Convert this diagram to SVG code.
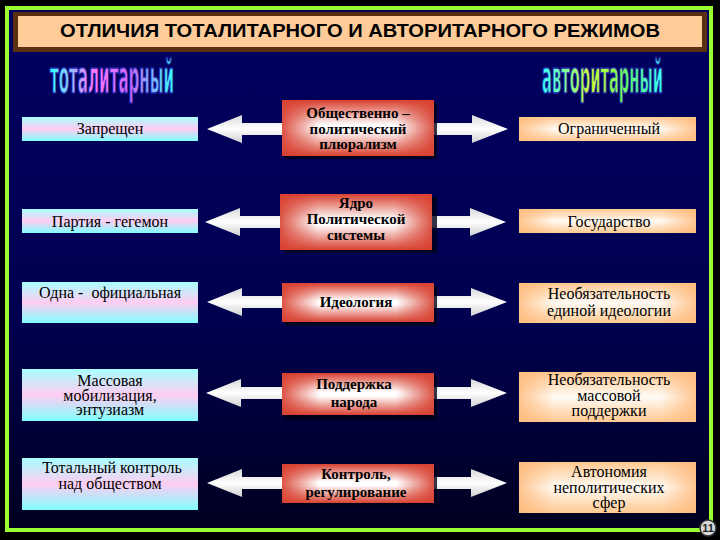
<svg xmlns="http://www.w3.org/2000/svg" width="720" height="540" viewBox="0 0 720 540">
<defs>
<linearGradient id="bg" x1="0" y1="0" x2="0" y2="1"><stop offset="0" stop-color="#000060"/><stop offset="0.6" stop-color="#000050"/><stop offset="1" stop-color="#000020"/></linearGradient>
<linearGradient id="lg" x1="0" y1="0" x2="0" y2="1"><stop offset="0" stop-color="#A8FFFF"/><stop offset="0.5" stop-color="#FFCCF2"/><stop offset="1" stop-color="#80FFFF"/></linearGradient>
<linearGradient id="cv" x1="0" y1="0" x2="0" y2="1"><stop offset="0" stop-color="#D84030"/><stop offset="0.45" stop-color="#FFFFFF"/><stop offset="0.55" stop-color="#FFFFFF"/><stop offset="1" stop-color="#D84030"/></linearGradient>
<linearGradient id="ch" x1="0" y1="0" x2="1" y2="0"><stop offset="0" stop-color="#D84030" stop-opacity="0.9"/><stop offset="0.25" stop-color="#D84030" stop-opacity="0"/><stop offset="0.75" stop-color="#D84030" stop-opacity="0"/><stop offset="1" stop-color="#D84030" stop-opacity="0.9"/></linearGradient>
<linearGradient id="rv" x1="0" y1="0" x2="0" y2="1"><stop offset="0" stop-color="#FFC890"/><stop offset="0.5" stop-color="#FFFBF5"/><stop offset="1" stop-color="#FFC890"/></linearGradient>
<linearGradient id="rh" x1="0" y1="0" x2="1" y2="0"><stop offset="0" stop-color="#FFB878" stop-opacity="0.8"/><stop offset="0.2" stop-color="#FFB878" stop-opacity="0"/><stop offset="0.8" stop-color="#FFB878" stop-opacity="0"/><stop offset="1" stop-color="#FFB878" stop-opacity="0.8"/></linearGradient>
<linearGradient id="ar" x1="0" y1="0" x2="0" y2="1"><stop offset="0" stop-color="#D8D8D8"/><stop offset="0.5" stop-color="#FFFFFF"/><stop offset="1" stop-color="#D0D0D0"/></linearGradient>
<linearGradient id="w1" x1="0" y1="0" x2="1" y2="0"><stop offset="0" stop-color="#33FFFF"/><stop offset="0.35" stop-color="#FF77FF"/><stop offset="0.65" stop-color="#CC66FF"/><stop offset="1" stop-color="#33FFFF"/></linearGradient>
<linearGradient id="w2" x1="0" y1="0" x2="1" y2="0"><stop offset="0" stop-color="#33FFFF"/><stop offset="0.4" stop-color="#CCFF33"/><stop offset="0.7" stop-color="#66FF66"/><stop offset="1" stop-color="#33FFFF"/></linearGradient>
</defs>
<style>
.l{font-family:"Liberation Serif","Times New Roman",serif;font-size:16px;fill:#000;text-anchor:middle}
.c{font-family:"Liberation Serif","Times New Roman",serif;font-size:15px;font-weight:bold;fill:#000;text-anchor:middle}
.arr{fill:url(#ar)}
.sh{fill:#000018;opacity:0.8}
.wa{font-family:"DejaVu Sans Condensed","DejaVu Sans",sans-serif;font-weight:bold;font-size:46px;stroke:#2222AA;stroke-width:1.5}
</style>
<rect width="720" height="540" fill="#000000"/>
<rect x="7" y="8" width="704" height="522" fill="url(#bg)" stroke="#99FF33" stroke-width="4"/>
<g id="title">
<rect x="13" y="12" width="694" height="40" fill="#5A2E10"/>
<rect x="18" y="16" width="684" height="31" fill="#FFCC99"/>
<text x="360" y="37" font-family="'Liberation Sans',Arial,sans-serif" font-size="18" font-weight="bold" text-anchor="middle" textLength="600" lengthAdjust="spacingAndGlyphs">ОТЛИЧИЯ ТОТАЛИТАРНОГО И АВТОРИТАРНОГО РЕЖИМОВ</text>
</g>
<g id="heading-left"><text class="wa" x="50" y="93" fill="url(#w1)" textLength="124" lengthAdjust="spacingAndGlyphs">тоталитарный</text></g>
<g id="heading-right"><text class="wa" x="542" y="93" fill="url(#w2)" textLength="121" lengthAdjust="spacingAndGlyphs">авторитарный</text></g>
<g id="connectors">
<polygon class="arr" points="207,129 242,115 242,123 290,123 290,135 242,135 242,143"/>
<polygon class="arr" points="508,129 472,115 472,123 426,123 426,135 472,135 472,143"/>
<polygon class="arr" points="205,222 240,208 240,216 290,216 290,228 240,228 240,236"/>
<polygon class="arr" points="506,222 470,208 470,216 426,216 426,228 470,228 470,236"/>
<polygon class="arr" points="207,302 242,288 242,296 290,296 290,308 242,308 242,316"/>
<polygon class="arr" points="507,302 471,288 471,296 426,296 426,308 471,308 471,316"/>
<polygon class="arr" points="206,393 241,379 241,387 290,387 290,399 241,399 241,407"/>
<polygon class="arr" points="507,393 471,379 471,387 426,387 426,399 471,399 471,407"/>
<polygon class="arr" points="207,483 242,469 242,477 290,477 290,489 242,489 242,497"/>
<polygon class="arr" points="507,483 471,469 471,477 426,477 426,489 471,489 471,497"/>
</g>
<g id="l1"><rect x="22" y="117" width="176" height="24" fill="url(#lg)"/><text class="l" x="110" y="134">Запрещен</text></g>
<g id="l2"><rect x="22" y="209" width="176" height="24" fill="url(#lg)"/><text class="l" x="110" y="227">Партия - гегемон</text></g>
<g id="l3"><rect x="22" y="282" width="176" height="41" fill="url(#lg)"/><text class="l" x="110" y="298" xml:space="preserve">Одна -  официальная</text></g>
<g id="l4"><rect x="22" y="369" width="176" height="52" fill="url(#lg)"/><text class="l" x="110" y="386">Массовая</text><text class="l" x="110" y="401">мобилизация,</text><text class="l" x="110" y="415">энтузиазм</text></g>
<g id="l5"><rect x="22" y="458" width="176" height="52" fill="url(#lg)"/><text class="l" x="112" y="473">Тотальный контроль</text><text class="l" x="110" y="489">над обществом</text></g>
<g id="c1"><rect class="sh" x="285" y="103" width="152" height="56"/><rect x="282" y="100" width="152" height="56" fill="url(#cv)"/><rect x="282" y="100" width="152" height="56" fill="url(#ch)"/><text class="c" x="358" y="118">Общественно –</text><text class="c" x="358" y="134">политический</text><text class="c" x="358" y="149">плюрализм</text></g>
<g id="c2"><rect class="sh" x="285" y="197" width="152" height="56"/><rect x="280" y="194" width="152" height="56" fill="url(#cv)"/><rect x="280" y="194" width="152" height="56" fill="url(#ch)"/><text class="c" x="356" y="208">Ядро</text><text class="c" x="356" y="224">Политической</text><text class="c" x="356" y="240">системы</text></g>
<g id="c3"><rect class="sh" x="285" y="286" width="152" height="40"/><rect x="282" y="283" width="152" height="39" fill="url(#cv)"/><rect x="282" y="283" width="152" height="39" fill="url(#ch)"/><text class="c" x="356" y="307">Идеология</text></g>
<g id="c4"><rect class="sh" x="285" y="376" width="152" height="44"/><rect x="282" y="373" width="152" height="42" fill="url(#cv)"/><rect x="282" y="373" width="152" height="42" fill="url(#ch)"/><text class="c" x="354" y="389">Поддержка</text><text class="c" x="354" y="407">народа</text></g>
<g id="c5"><rect class="sh" x="285" y="467" width="152" height="40"/><rect x="282" y="464" width="152" height="39" fill="url(#cv)"/><rect x="282" y="464" width="152" height="39" fill="url(#ch)"/><text class="c" x="356" y="479">Контроль,</text><text class="c" x="356" y="497">регулирование</text></g>
<g id="r1"><rect x="519" y="117" width="177" height="24" fill="url(#rv)"/><rect x="519" y="117" width="177" height="24" fill="url(#rh)"/><text class="l" x="609" y="134">Ограниченный</text></g>
<g id="r2"><rect x="519" y="209" width="177" height="24" fill="url(#rv)"/><rect x="519" y="209" width="177" height="24" fill="url(#rh)"/><text class="l" x="609" y="227">Государство</text></g>
<g id="r3"><rect x="519" y="283" width="177" height="40" fill="url(#rv)"/><rect x="519" y="283" width="177" height="40" fill="url(#rh)"/><text class="l" x="609" y="299">Необязательность</text><text class="l" x="609" y="316">единой идеологии</text></g>
<g id="r4"><rect x="519" y="372" width="177" height="50" fill="url(#rv)"/><rect x="519" y="372" width="177" height="50" fill="url(#rh)"/><text class="l" x="609" y="385">Необязательность</text><text class="l" x="609" y="401">массовой</text><text class="l" x="609" y="416">поддержки</text></g>
<g id="r5"><rect x="519" y="462" width="177" height="51" fill="url(#rv)"/><rect x="519" y="462" width="177" height="51" fill="url(#rh)"/><text class="l" x="609" y="477">Автономия</text><text class="l" x="609" y="493">неполитических</text><text class="l" x="609" y="508">сфер</text></g>
<g id="page"><circle cx="708" cy="528" r="8" fill="#D8D8D8" stroke="#333" stroke-width="1.5"/><text x="708" y="532" font-family="'Liberation Sans',Arial,sans-serif" font-size="11" font-weight="bold" text-anchor="middle" fill="#222">11</text></g>
</svg>
